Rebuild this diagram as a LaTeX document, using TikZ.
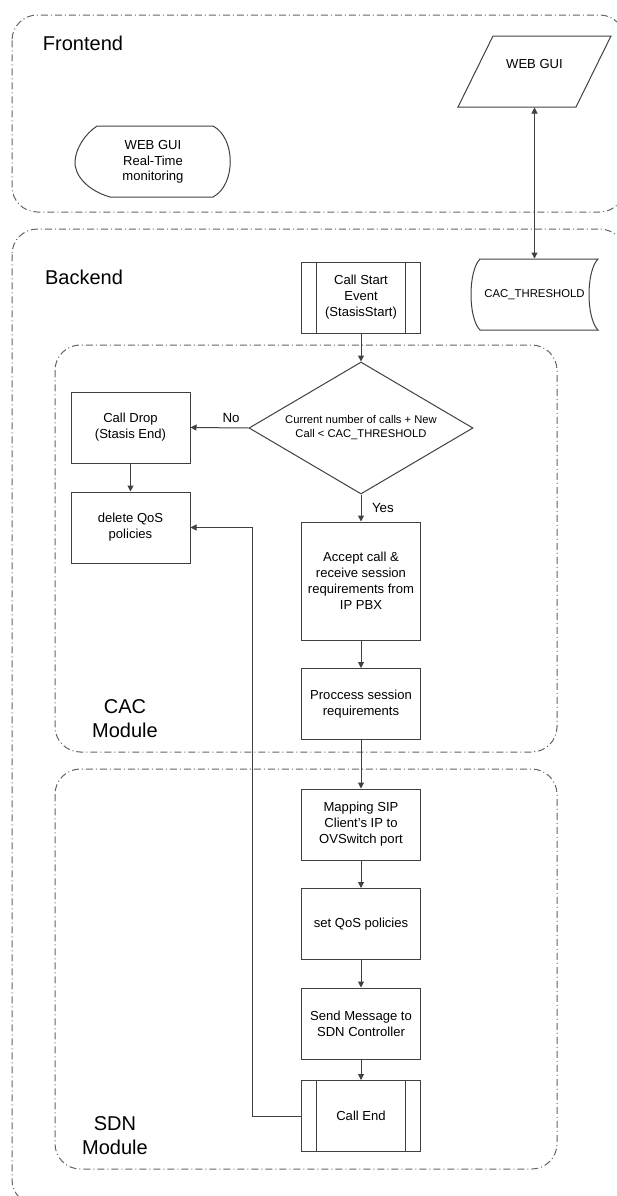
\documentclass[tikz,border=0pt]{standalone}
\usepackage{fontspec}
\setmainfont{Liberation Sans}
\usetikzlibrary{shapes.geometric,arrows.meta}
\definecolor{ink}{RGB}{64,64,64}
\definecolor{grp}{RGB}{100,100,100}
\tikzset{every picture/.style={line width=0.75pt}}
\tikzset{
  box/.style={draw=ink, inner sep=0.75pt, align=center, minimum width=89.25pt, minimum height=53.25pt, font=\fontsize{9.8pt}{12pt}\selectfont},
  predef/.style={box, path picture={
      \draw[ink] ([xshift=11pt]path picture bounding box.north west) -- ([xshift=11pt]path picture bounding box.south west);
      \draw[ink] ([xshift=-11pt]path picture bounding box.north east) -- ([xshift=-11pt]path picture bounding box.south east);}},
  decision/.style={diamond, draw=ink, shape aspect=1.7, inner sep=0pt, minimum width=168pt, minimum height=99pt, align=center, font=\fontsize{8.4pt}{10.5pt}\selectfont},
  shapetext/.style={inner sep=0pt, align=center, font=\fontsize{9.8pt}{11.5pt}\selectfont},
  group/.style={draw=grp, rounded corners=19pt, dash pattern=on 5.25pt off 2.25pt on 0.75pt off 2.25pt},
  title/.style={inner sep=0.75pt, align=center, font=\fontsize{15pt}{18pt}\selectfont},
  flow/.style={draw=ink, -{Triangle[length=4.5pt,width=4.5pt]}},
  answer/.style={inner sep=3.9pt, font=\fontsize{10pt}{12pt}\selectfont}
}

\begin{document}
\begin{tikzpicture}[x=0.75pt,y=0.75pt,yscale=-1,xscale=1]
\clip (0,0) rectangle (617,1196);

%Shape: Rounded Rect [id:frontend]
\draw[group] (12,15) rectangle (625,212);
%Shape: Rounded Rect [id:backend]
\draw[group] (12,229) rectangle (625,1205);
%Shape: Rounded Rect [id:cac]
\draw[group] (55,345) rectangle (557,752);
%Shape: Rounded Rect [id:sdn]
\draw[group] (55,769) rectangle (557,1169);

% Text Node
\node[title] (frontendtitle) at (83,43) {Frontend};
% Text Node
\node[title] (backendtitle) at (84,277) {Backend};
% Text Node
\node[title] (cactitle) at (125,719) {CAC\\Module};
% Text Node
\node[title] (sdntitle) at (115,1136) {SDN\\Module};

%Shape: Display [id:monitor]
\draw[ink] (97,126) -- (213,126) .. controls (236,138) and (236,185) .. (213,197) -- (110,197) .. controls (86,190) and (74,174) .. (75,161) .. controls (76,148) and (85,134) .. (97,126) -- cycle;
\node[shapetext] (monitor) at (153,162) {WEB GUI\\Real-Time\\monitoring};

%Shape: Parallelogram [id:webgui]
\draw[ink] (493,36) -- (611,36) -- (576,107) -- (458,107) -- cycle;
\node[shapetext, minimum width=88.5pt, minimum height=53.25pt, text height=7pt, text depth=12pt] (webgui) at (534.5,71.5) {WEB GUI};

%Shape: Stored Data [id:cacth]
\draw[ink] (480,259) -- (598,259) .. controls (586,271) and (586,318) .. (598,330) -- (480,330) .. controls (468,318) and (468,271) .. (480,259) -- cycle;
\node[shapetext, font=\fontsize{8.5pt}{10pt}\selectfont, minimum width=95.25pt, minimum height=53.25pt] (cacth) at (534.5,294.5) {CAC\_THRESHOLD};

% Flow nodes
\node[predef] (callstart) at (361,297.5) {Call Start\\Event\\(StasisStart)};
\node[decision] (check) at (361,428) {Current number of calls + New\\Call < CAC\_THRESHOLD};
\node[box] (calldrop) at (130.5,427.5) {Call Drop\\(Stasis End)};
\node[box] (delqos) at (130.5,527.5) {delete QoS\\policies};
\node[box, minimum height=88.5pt] (accept) at (361,581) {Accept call \&\\receive session\\requirements from\\IP PBX};
\node[box] (process) at (361,704) {Proccess session\\requirements};
\node[box] (mapping) at (361,824.5) {Mapping SIP\\Client’s IP to\\OVSwitch port};
\node[box] (setqos) at (361,924) {set QoS policies};
\node[box] (sendmsg) at (361,1023.5) {Send Message to\\SDN Controller};
\node[predef] (callend) at (361,1116) {Call End};

% Connectors
\draw[draw=ink, {Triangle[length=4.5pt,width=4.5pt]}-{Triangle[length=4.5pt,width=4.5pt]}] (webgui.south) -- (cacth.north);
\draw[flow] (callstart) -- (check);
\draw[flow] (check.west) -- node[answer, pos=0.3, above] {No} (calldrop.east);
\draw[flow] (calldrop) -- (delqos);
\draw[flow] (check.south) -- node[answer, right, xshift=4pt] {Yes} (accept.north);
\draw[flow] (accept) -- (process);
\draw[flow] (process) -- (mapping);
\draw[flow] (mapping) -- (setqos);
\draw[flow] (setqos) -- (sendmsg);
\draw[flow] (sendmsg) -- (callend);
\draw[flow] (callend.west) -- ++(-49,0) |- (delqos.east);

\end{tikzpicture}
\end{document}
